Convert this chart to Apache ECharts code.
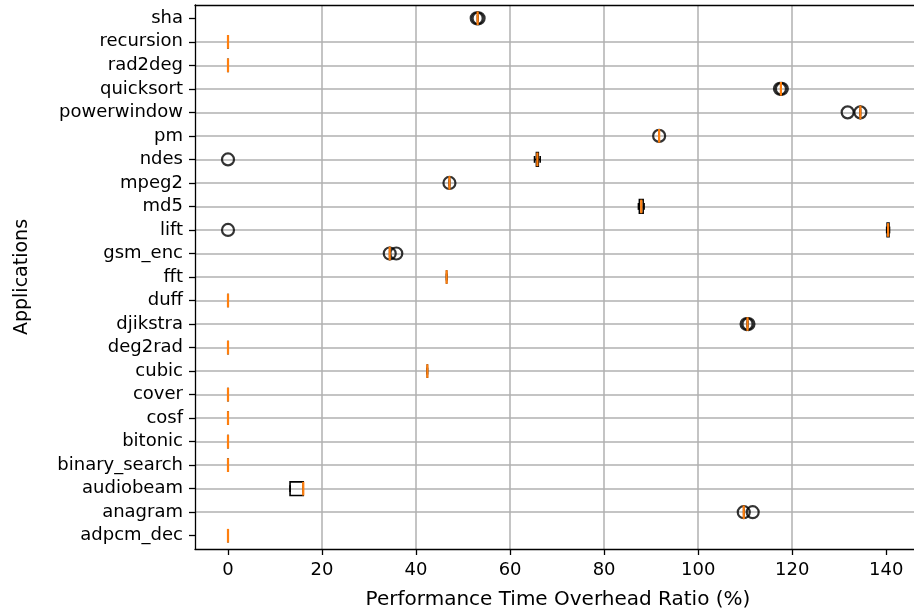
<!DOCTYPE html>
<html>
<head>
<meta charset="utf-8">
<script src="https://cdn.jsdelivr.net/npm/echarts@6/dist/echarts.min.js"></script>
<style>
  html, body { margin: 0; padding: 0; background: #ffffff; overflow: hidden; }
  #chart { width: 914px; height: 615px; }
</style>
</head>
<body>
<div id="chart"></div>
<script>
// Applications, listed bottom to top
const apps = ['adpcm_dec', 'anagram', 'audiobeam', 'binary_search', 'bitonic', 'cosf', 'cover',
  'cubic', 'deg2rad', 'djikstra', 'duff', 'fft', 'gsm_enc', 'lift', 'md5', 'mpeg2', 'ndes',
  'pm', 'powerwindow', 'quicksort', 'rad2deg', 'recursion', 'sha'];

// Box statistics per application (overhead ratio, %)
const whiskerLow  = [0, 109.7, 13.2, 0, 0, 0, 0, 42.4, 0, 110.5, 0, 46.5, 34.4, 140.1, 87.3, 47.1, 65.2, 91.7, 134.5, 117.6, 0, 0, 53.1];
const quartile1   = [0, 109.7, 13.2, 0, 0, 0, 0, 42.4, 0, 110.5, 0, 46.5, 34.4, 140.2, 87.5, 47.1, 65.6, 91.7, 134.5, 117.6, 0, 0, 53.1];
const medians     = [0, 109.7, 16.0, 0, 0, 0, 0, 42.4, 0, 110.5, 0, 46.5, 34.4, 140.4, 87.9, 47.1, 65.8, 91.7, 134.5, 117.6, 0, 0, 53.1];
const quartile3   = [0, 109.7, 16.0, 0, 0, 0, 0, 42.4, 0, 110.5, 0, 46.5, 34.4, 140.6, 88.3, 47.1, 66.0, 91.7, 134.5, 117.6, 0, 0, 53.1];
const whiskerHigh = [0, 109.7, 16.0, 0, 0, 0, 0, 42.4, 0, 110.5, 0, 46.5, 34.4, 140.7, 88.5, 47.1, 66.4, 91.7, 134.5, 117.6, 0, 0, 53.1];

// Outliers: [value, application]
const outliers = [
  [109.7, 'anagram'], [111.6, 'anagram'],
  [110.3, 'djikstra'], [110.7, 'djikstra'],
  [34.4, 'gsm_enc'], [35.8, 'gsm_enc'],
  [0, 'lift'],
  [47.1, 'mpeg2'],
  [0, 'ndes'],
  [91.7, 'pm'],
  [131.8, 'powerwindow'], [134.5, 'powerwindow'],
  [117.4, 'quicksort'], [117.8, 'quicksort'],
  [52.9, 'sha'], [53.3, 'sha']
];

const xTicks = [0, 20, 40, 60, 80, 100, 120, 140];
const xMin = -7.02, xMax = 147.4;
// rows sit on integer positions; a little padding above and below
const yMin = -0.565, yMax = apps.length - 1 + 0.565;
const yTicks = apps.map((a, i) => i);

const boxData = apps.map((a, i) => [i, whiskerLow[i], quartile1[i], medians[i], quartile3[i], whiskerHigh[i]]);
const outlierData = outliers.map(([v, a]) => [v, apps.indexOf(a)]);

const FONT = 'DejaVu Sans';
const chart = echarts.init(document.getElementById('chart'), null, { renderer: 'canvas' });

function renderBox(params, api) {
  const row = api.value(0);
  const lo = api.value(1), q1 = api.value(2), med = api.value(3), q3 = api.value(4), hi = api.value(5);
  const band = api.size([0, 1])[1];
  const h = band * 0.58;
  const pLo = api.coord([lo, row]);
  const pQ1 = api.coord([q1, row]);
  const pMed = api.coord([med, row]);
  const pQ3 = api.coord([q3, row]);
  const pHi = api.coord([hi, row]);
  const y = pMed[1];
  const black = { stroke: '#000', lineWidth: 1.6, fill: null };
  return {
    type: 'group',
    children: [
      { type: 'line', shape: { x1: pLo[0], y1: y, x2: pQ1[0], y2: y }, style: black },
      { type: 'line', shape: { x1: pQ3[0], y1: y, x2: pHi[0], y2: y }, style: black },
      { type: 'line', shape: { x1: pLo[0], y1: y - h / 4, x2: pLo[0], y2: y + h / 4 }, style: black },
      { type: 'line', shape: { x1: pHi[0], y1: y - h / 4, x2: pHi[0], y2: y + h / 4 }, style: black },
      { type: 'rect', shape: { x: pQ1[0], y: y - h / 2, width: pQ3[0] - pQ1[0], height: h }, style: black },
      { type: 'line', shape: { x1: pMed[0], y1: y - h / 2, x2: pMed[0], y2: y + h / 2 },
        style: { stroke: '#ff7f0e', lineWidth: 2.2 } }
    ]
  };
}

const gridLine = { show: true, showMinLine: false, showMaxLine: false, lineStyle: { color: '#b0b0b0', width: 1.5 } };

chart.setOption({
  animation: false,
  backgroundColor: '#ffffff',
  grid: {
    // the plot area runs a few pixels past the right edge of the canvas
    left: 195, top: 5, right: -7, bottom: 66,
    outerBoundsMode: 'none',
    show: false
  },
  xAxis: [
    {
      type: 'value',
      min: xMin, max: xMax,
      splitNumber: 7,
      name: 'Performance Time Overhead Ratio (%)',
      nameLocation: 'middle',
      nameGap: 41,
      nameTextStyle: { fontFamily: FONT, fontSize: 20, color: '#000' },
      axisLine: { show: true, onZero: false, lineStyle: { color: '#000', width: 1.3 } },
      axisTick: { show: true, length: 6, customValues: xTicks, lineStyle: { color: '#000', width: 1.3 } },
      axisLabel: { customValues: xTicks, fontFamily: FONT, fontSize: 18, color: '#000', margin: 12 },
      splitLine: gridLine
    },
    {
      // top frame line
      type: 'value',
      position: 'top',
      min: xMin, max: xMax,
      axisLine: { show: true, onZero: false, lineStyle: { color: '#000', width: 1.3 } },
      axisTick: { show: false },
      axisLabel: { show: false },
      splitLine: { show: false }
    }
  ],
  yAxis: {
    type: 'value',
    min: yMin, max: yMax,
    splitNumber: apps.length,
    name: 'Applications',
    nameLocation: 'middle',
    nameRotate: 90,
    nameGap: 163,
    nameTextStyle: { fontFamily: FONT, fontSize: 19, color: '#000' },
    axisLine: { show: true, onZero: false, lineStyle: { color: '#000', width: 1.3 } },
    axisTick: { show: true, length: 6, customValues: yTicks, lineStyle: { color: '#000', width: 1.3 } },
    axisLabel: {
      customValues: yTicks,
      formatter: v => apps[Math.round(v)],
      fontFamily: FONT, fontSize: 18, color: '#000', margin: 12
    },
    splitLine: gridLine
  },
  series: [
    {
      type: 'scatter',
      data: outlierData,
      z: 3,
      symbol: 'circle',
      symbolSize: 12,
      itemStyle: { color: 'rgba(0,0,0,0)', borderColor: '#000', borderWidth: 2.2 }
    },
    {
      type: 'custom',
      data: boxData,
      z: 4,
      encode: { x: [1, 2, 3, 4, 5], y: 0 },
      renderItem: renderBox
    }
  ]
});
</script>
</body>
</html>
